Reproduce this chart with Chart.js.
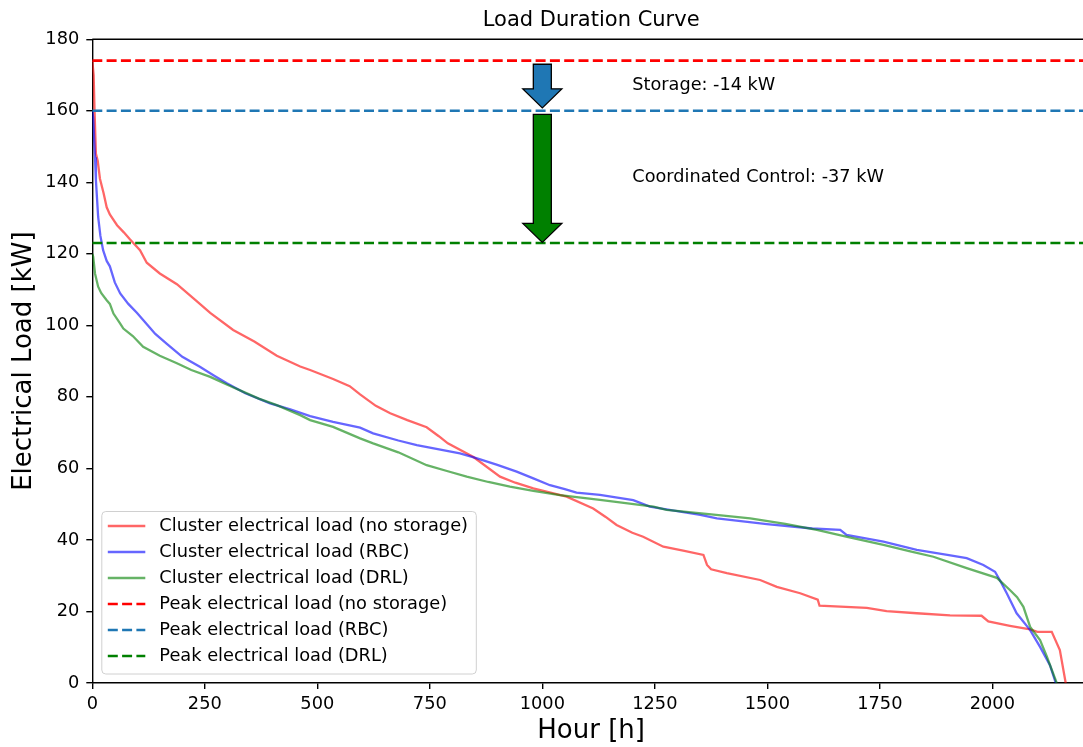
<!DOCTYPE html>
<html>
<head>
<meta charset="utf-8">
<title>Load Duration Curve</title>
<script src="https://cdn.jsdelivr.net/npm/chart.js@4.4.1/dist/chart.umd.min.js"></script>
<style>
  html, body { margin: 0; padding: 0; background: #fff; overflow: hidden; }
  #wrap { width: 1100px; height: 747px; }
</style>
</head>
<body>
<div id="wrap"><canvas id="ldc" width="1100" height="747"></canvas></div>
<script>
/* ---- data (hours sorted by load, kW) ---- */
const hoursNoStorage = [0, 3, 5, 8, 12, 17, 25, 32, 39, 55, 70, 84, 106, 121, 150, 188, 230, 262, 313, 360, 410, 462, 484, 535, 572, 595, 630, 662, 700, 743, 770, 790, 847, 906, 940, 980, 1054, 1113, 1140, 1165, 1200, 1224, 1269, 1313, 1358, 1366, 1375, 1410, 1484, 1521, 1573, 1612, 1616, 1721, 1765, 1832, 1906, 1976, 1991, 2039, 2084, 2100, 2132, 2150, 2163];
const loadNoStorage  = [174, 170, 160, 148, 146, 141, 137, 133, 131, 128, 126, 124, 121, 117.5, 114.5, 111.5, 107, 103.5, 98.7, 95.5, 91.5, 88.5, 87.5, 85, 83, 80.7, 77.5, 75.4, 73.5, 71.5, 69, 67, 63.2, 57.7, 56, 54.4, 52.1, 48.8, 46.5, 44.2, 42, 40.9, 38.1, 37, 35.8, 33, 31.8, 30.7, 28.8, 26.9, 25.1, 23.3, 21.6, 21, 20.1, 19.5, 18.9, 18.8, 17.2, 16, 15, 14.3, 14.3, 9.2, 0];

const hoursRBC = [0, 2, 6, 8, 13, 18, 24, 32, 39, 50, 62, 80, 99, 113, 128, 140, 165, 200, 239, 270, 299, 340, 395, 440, 484, 535, 595, 624, 680, 721, 817, 855, 900, 943, 980, 1017, 1050, 1076, 1128, 1202, 1239, 1262, 1351, 1388, 1499, 1600, 1662, 1676, 1758, 1832, 1900, 1943, 1980, 2006, 2020, 2032, 2054, 2084, 2106, 2128, 2141];
const loadRBC  = [160, 158, 147, 140.6, 130.3, 125, 121, 118, 116.5, 112, 108.9, 106, 103.5, 101.5, 99.3, 97.6, 94.9, 91.2, 88.4, 86, 83.8, 81, 78.2, 76.5, 74.6, 73, 71.4, 69.8, 67.8, 66.5, 64.2, 62.8, 61, 59.1, 57.2, 55.3, 54.2, 53.2, 52.6, 51.1, 49.3, 48.8, 47, 46, 44.4, 43.2, 42.8, 41.4, 39.5, 37.2, 35.8, 34.9, 33, 31.1, 28, 25.1, 19.5, 14.8, 10.1, 5, 0];

const hoursDRL = [0, 2, 6, 13, 20, 32, 39, 47, 62, 69, 90, 113, 150, 188, 220, 262, 300, 336, 370, 410, 462, 484, 535, 595, 624, 680, 743, 790, 832, 880, 928, 980, 1039, 1128, 1247, 1276, 1370, 1462, 1540, 1610, 1680, 1758, 1820, 1869, 1943, 2010, 2039, 2055, 2069, 2084, 2106, 2121, 2143];
const loadDRL  = [120, 119.2, 114.5, 110.8, 109, 107, 106, 103.3, 100.5, 99.1, 97, 94, 91.5, 89.4, 87.5, 85.6, 83.4, 81.4, 79.5, 77.7, 74.9, 73.5, 71.6, 68.4, 67, 64.5, 60.9, 59.2, 57.7, 56.2, 54.9, 53.7, 52.5, 51.2, 49.3, 48.4, 47.2, 46, 44.5, 42.8, 40.8, 38.6, 36.7, 35.3, 32.1, 29.4, 26, 24, 21.3, 15.7, 12, 7.4, 0];

const peakNoStorage = 174;
const peakRBC = 160;
const peakDRL = 123;

const xTicks = [0, 250, 500, 750, 1000, 1250, 1500, 1750, 2000];
const yTicks = [0, 20, 40, 60, 80, 100, 120, 140, 160, 180];
const xMax = 2217;

// arrows at hour 1000: [from, to] in kW
const arrowHour = 1000;
const storageArrow = [173, 160.8];
const coordArrow = [159, 123.2];

// annotation texts
const noteTexts = ['Storage: -14 kW', 'Coordinated Control: -37 kW'];
const noteHours = [1200, 1200];
const noteLoads = [167, 141.5];

const titleText = 'Load Duration Curve';

/* ---- helpers ---- */
const FONT = '"DejaVu Sans", sans-serif';
const pts = (xs, ys) => xs.map((x, i) => ({ x: x, y: ys[i] }));
const hline = (v) => [{ x: 0, y: v }, { x: xMax, y: v }];
const DASH = [10, 4.3];

// frame (top/right spines), title, arrows and texts, drawn on top of the curves
const overlay = {
  id: 'overlay',
  afterDatasetsDraw(chart) {
    const { ctx, chartArea: a, scales: { x, y } } = chart;
    ctx.save();
    ctx.strokeStyle = '#000'; ctx.lineWidth = 1.4;
    ctx.beginPath();
    ctx.moveTo(a.left, a.top); ctx.lineTo(a.right, a.top); ctx.lineTo(a.right, a.bottom);
    ctx.stroke();

    // title centred over the axes, like matplotlib
    ctx.fillStyle = '#000'; ctx.font = '21px ' + FONT;
    ctx.textAlign = 'center'; ctx.textBaseline = 'middle';
    ctx.fillText(titleText, (a.left + a.right) / 2, 21);

    const drawArrow = (from, to, fill) => {
      const px = x.getPixelForValue(arrowHour);
      const p1 = y.getPixelForValue(from), p2 = y.getPixelForValue(to);
      const sw = 9, hw = 19.5, hl = 19, pb = p2 - hl;
      ctx.beginPath();
      ctx.moveTo(px - sw, p1); ctx.lineTo(px + sw, p1); ctx.lineTo(px + sw, pb);
      ctx.lineTo(px + hw, pb); ctx.lineTo(px, p2); ctx.lineTo(px - hw, pb);
      ctx.lineTo(px - sw, pb); ctx.closePath();
      ctx.fillStyle = fill; ctx.fill();
      ctx.strokeStyle = '#000'; ctx.lineWidth = 1.3; ctx.lineJoin = 'miter'; ctx.stroke();
    };
    drawArrow(storageArrow[0], storageArrow[1], '#1f77b4');
    drawArrow(coordArrow[0], coordArrow[1], '#008000');

    ctx.fillStyle = '#000'; ctx.font = '17.7px ' + FONT;
    ctx.textAlign = 'left'; ctx.textBaseline = 'middle';
    noteTexts.forEach((t, i) => ctx.fillText(t, x.getPixelForValue(noteHours[i]), y.getPixelForValue(noteLoads[i])));
    ctx.restore();
  }
};

// matplotlib-style legend, lower left inside the axes
const boxLegend = {
  id: 'boxLegend',
  afterDraw(chart) {
    const { ctx, chartArea: a } = chart;
    const sets = chart.data.datasets;
    const bx = a.left + 9.5, bw = 374.5, rowH = 26, bh = 162.5, by = a.bottom - 9 - bh;
    ctx.save();
    ctx.beginPath();
    ctx.roundRect(bx, by, bw, bh, 4);
    ctx.fillStyle = 'rgba(255,255,255,0.8)'; ctx.fill();
    ctx.strokeStyle = '#d0d0d0'; ctx.lineWidth = 1; ctx.stroke();
    ctx.font = '17.8px ' + FONT; ctx.textBaseline = 'middle'; ctx.fillStyle = '#000';
    sets.forEach((ds, i) => {
      const cy = by + 14.5 + i * rowH;
      ctx.beginPath();
      ctx.setLineDash(ds.borderDash || []);
      ctx.strokeStyle = ds.borderColor; ctx.lineWidth = ds.borderWidth;
      ctx.moveTo(bx + 6, cy); ctx.lineTo(bx + 43.5, cy); ctx.stroke();
      ctx.setLineDash([]);
      ctx.fillText(ds.label, bx + 57.5, cy);
    });
    ctx.restore();
  }
};

const tickFont = { family: FONT, size: 17.8 };
const labelFont = { family: FONT, size: 26, lineHeight: 1.2 };

new Chart(document.getElementById('ldc'), {
  type: 'line',
  data: {
    datasets: [
      { label: 'Cluster electrical load (no storage)', data: pts(hoursNoStorage, loadNoStorage), borderColor: 'rgba(255,0,0,0.6)', borderWidth: 2.3, order: 6 },
      { label: 'Cluster electrical load (RBC)', data: pts(hoursRBC, loadRBC), borderColor: 'rgba(0,0,255,0.6)', borderWidth: 2.3, order: 5 },
      { label: 'Cluster electrical load (DRL)', data: pts(hoursDRL, loadDRL), borderColor: 'rgba(0,128,0,0.6)', borderWidth: 2.3, order: 4 },
      { label: 'Peak electrical load (no storage)', data: hline(peakNoStorage), borderColor: '#ff0000', borderDash: DASH, borderWidth: 2.6, order: 3 },
      { label: 'Peak electrical load (RBC)', data: hline(peakRBC), borderColor: '#1f77b4', borderDash: DASH, borderWidth: 2.6, order: 2 },
      { label: 'Peak electrical load (DRL)', data: hline(peakDRL), borderColor: '#008000', borderDash: DASH, borderWidth: 2.6, order: 1 }
    ]
  },
  options: {
    responsive: false,
    animation: false,
    elements: { point: { radius: 0 }, line: { tension: 0, fill: false, borderCapStyle: 'butt' } },
    layout: { padding: { left: 0, right: 10, top: 39.2, bottom: 0 } },
    plugins: {
      legend: { display: false },
      tooltip: { enabled: false },
      title: { display: false }
    },
    scales: {
      x: {
        type: 'linear', min: 0, max: xMax,
        afterBuildTicks: (s) => { s.ticks = xTicks.map((v) => ({ value: v })); },
        afterFit: (s) => { s.height = 64; },
        grid: { drawOnChartArea: false, tickLength: 6, color: '#000', lineWidth: 1.4 },
        border: { color: '#000', width: 1.4 },
        ticks: { color: '#000', font: tickFont, padding: 5, maxRotation: 0, autoSkip: false, callback: (v) => String(v) },
        title: { display: true, text: 'Hour [h]', color: '#000', font: labelFont, padding: { top: 0, bottom: 0 } }
      },
      y: {
        type: 'linear', min: 0, max: 180,
        afterBuildTicks: (s) => { s.ticks = yTicks.map((v) => ({ value: v })); },
        afterFit: (s) => { s.width = 92.3; },
        grid: { drawOnChartArea: false, tickLength: 6, color: '#000', lineWidth: 1.4 },
        border: { color: '#000', width: 1.4 },
        ticks: { color: '#000', font: tickFont, padding: 7, autoSkip: false, callback: (v) => String(v) },
        title: { display: true, text: 'Electrical Load [kW]', color: '#000', font: labelFont, padding: { top: 8.4, bottom: 0 } }
      }
    }
  },
  plugins: [overlay, boxLegend]
});
</script>
</body>
</html>
